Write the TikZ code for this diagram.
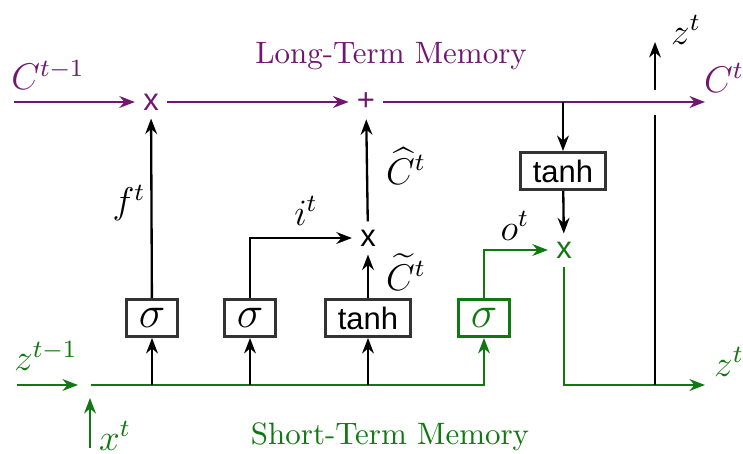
\documentclass[tikz,border=0pt]{standalone}
\usepackage{amsmath}
\usepackage{fontspec}
\newfontfamily\opfont{Liberation Sans}
\usetikzlibrary{calc,arrows.meta}
\definecolor{ltmcol}{RGB}{112,24,112}
\definecolor{stmcol}{RGB}{16,120,16}
\definecolor{boxcol}{RGB}{51,51,51}
\tikzset{
  gatebox/.style={draw=boxcol,line width=0.9pt,font=\opfont,minimum width=16pt,minimum height=12pt,inner xsep=4pt,inner ysep=0pt},
  opnode/.style={font=\opfont,inner sep=2.5pt},
  flow/.style={line width=0.75pt,-{Stealth[length=5pt,width=3.8pt]}},
  ltm/.style={ltmcol},
  stm/.style={stmcol},
  lbl/.style={font=\large,inner sep=0.5pt},
}

\begin{document}
\begin{tikzpicture}[x=0.323pt,y=-0.323pt]
\useasboundingbox (0,0) rectangle (743,454);
% long-term memory
\coordinate (cin) at (14,102);
\coordinate (cout) at (705,102);
\coordinate (ctap) at (563,102);
\node[opnode,ltm] (fx) at (151,102) {x};
\node[opnode,ltm] (cplus) at (366,102) {+};
\node[lbl,ltm] (cprev) at (48,75) {$C^{t-1}$};
\node[lbl,ltm] (cnext) at (724,78) {$C^{t}$};
\node[ltm] (ltmlabel) at (391,56) {Long-Term Memory};

% gates
\node[gatebox,font=\Large] (fsig) at (152,318) {$\sigma$};
\node[gatebox,font=\Large] (isig) at (250,318) {$\sigma$};
\node[gatebox] (ctanh) at (368,318) {tanh};
\node[gatebox,font=\Large,draw=stmcol,text=stmcol] (osig) at (484,318) {$\sigma$};
\node[gatebox] (htanh) at (563,171) {tanh};
\node[opnode] (ix) at (368,238) {x};
\node[opnode,stm] (ox) at (564,250) {x};

% short-term memory
\coordinate (zin) at (17,385);
\coordinate (zinend) at (78,385);
\coordinate (xin) at (90,448);
\coordinate (xinend) at (90,398);
\coordinate (sstart) at (91,385);
\coordinate (sturn) at (484,385);
\coordinate (zout) at (705,385);
\coordinate (zsplit) at (655,385);
\coordinate (zgap) at (655,115);
\coordinate (zgapend) at (655,90);
\coordinate (zup) at (655,42);
\node[lbl,stm] (zprev) at (46,356) {$z^{t-1}$};
\node[lbl,stm] (xlab) at (115,436) {$x^{t}$};
\node[lbl,stm] (znext) at (729,362) {$z^{t}$};
\node[lbl] (zlab) at (686,30) {$z^{t}$};
\node[stm] (stmlabel) at (390,437) {Short-Term Memory};

\node[lbl] (flab) at (129,203) {$f^{t}$};
\node[lbl] (ilab) at (306,211) {$i^{t}$};
\node[lbl] (chatlab) at (406,166) {$\widehat{C}^{t}$};
\node[lbl] (ctildelab) at (406,272) {$\widetilde{C}^{t}$};
\node[lbl] (olab) at (515,226) {$o^{t}$};

\draw[flow,ltm] (cin) -- (fx);
\draw[flow,ltm] (fx) -- (cplus);
\draw[flow,ltm] (cplus) -- (cout);
\draw[flow] (ctap) -- (htanh);
\draw[flow] (htanh) -- (ox);
\draw[flow] (fsig) -- (fx);
\draw[flow] (isig.north) |- (ix);
\draw[flow] (ctanh) -- (ix);
\draw[flow] (ix) -- (cplus);
\draw[flow,stm] (osig.north) |- (ox);

\draw[flow,stm] (zin) -- (zinend);
\draw[flow,stm] (xin) -- (xinend);
\draw[flow,stm] (sstart) -- (sturn) -- (osig);
\foreach \g in {fsig,isig,ctanh}
  \draw[flow] (\g |- sstart) -- (\g);
\draw[flow,stm] (ox) |- (zout);
\draw[line width=0.75pt] (zsplit) -- (zgap);
\draw[flow] (zgapend) -- (zup);
\end{tikzpicture}
\end{document}
